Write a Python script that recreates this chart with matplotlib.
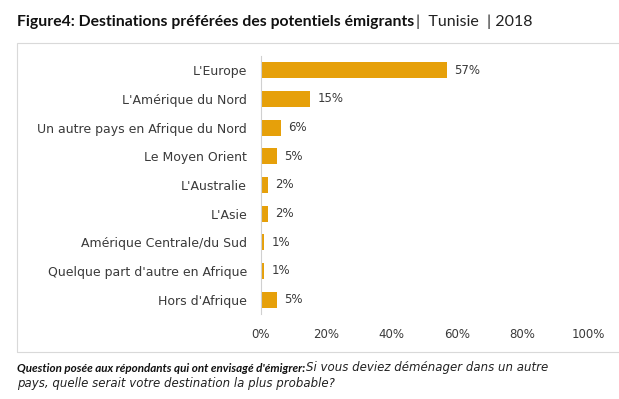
import matplotlib.pyplot as plt
from matplotlib.patches import Rectangle

plt.rcParams['font.family'] = ['DejaVu Sans']

# data
destinations = ["L'Europe", "L'Amérique du Nord", "Un autre pays en Afrique du Nord",
                "Le Moyen Orient", "L'Australie", "L'Asie",
                "Amérique Centrale/du Sud", "Quelque part d'autre en Afrique", "Hors d'Afrique"]
shares = [57, 15, 6, 5, 2, 2, 1, 1, 5]
xticks = [0, 20, 40, 60, 80, 100]

bar_color = '#E6A00A'
text_color = '#3a3a3a'

fig = plt.figure(figsize=(6.19, 3.99), dpi=100)

# chart frame
fig.patches.append(Rectangle((17 / 619, 1 - 352 / 399), 1.0, (352 - 43) / 399,
                             transform=fig.transFigure, fill=False,
                             edgecolor='#d9d9d9', linewidth=0.8))

ax = fig.add_axes([261 / 619, 1 - 314 / 399, (588 - 261) / 619, (314 - 56) / 399])
y = list(range(len(destinations)))
ax.barh(y, shares, height=0.55, color=bar_color)
for yi, v in zip(y, shares):
    ax.text(v + 2.2, yi, f"{v}%", va='center', ha='left', fontsize=8.5, color=text_color)

ax.set_xlim(0, 100)
ax.set_ylim(len(destinations) - 0.5, -0.5)
ax.set_yticks(y)
ax.set_yticklabels(destinations, fontsize=9, color=text_color)
ax.set_xticks(xticks)
ax.set_xticklabels([f"{t}%" for t in xticks], fontsize=8.5, color=text_color)
ax.tick_params(axis='both', length=0)
ax.tick_params(axis='y', pad=10)
ax.tick_params(axis='x', pad=10)
for s in ['top', 'right', 'bottom']:
    ax.spines[s].set_visible(False)
ax.spines['left'].set_color('#d0d0d0')
ax.spines['left'].set_linewidth(0.8)

# title
fig.canvas.draw()
r = fig.canvas.get_renderer()
t1 = fig.text(17 / 619, 1 - 22 / 399, "Figure4: Destinations préférées des potentiels émigrants",
              fontsize=11.3, fontweight='bold', color='#111111', va='center', ha='left',
              family='Lato')
x_end = t1.get_window_extent(r).x1
fig.text((x_end + 2) / 619, 1 - 22 / 399, "|  Tunisie  | 2018", fontsize=11.5,
         color='#222222', va='center', ha='left', family='Lato')

# footnote
f1 = fig.text(17 / 619, 1 - 368 / 399,
              "Question posée aux répondants qui ont envisagé d'émigrer:",
              fontsize=8.4, fontweight='bold', style='italic', color='#111111', va='center',
              family='Lato')
x_end = f1.get_window_extent(r).x1
fig.text((x_end + 1) / 619, 1 - 368 / 399, "Si vous deviez déménager dans un autre",
         fontsize=8.5, style='italic', color='#222222', va='center')
fig.text(17 / 619, 1 - 383 / 399, "pays, quelle serait votre destination la plus probable?",
         fontsize=8.5, style='italic', color='#222222', va='center')

fig.savefig("out.png", dpi=100)
